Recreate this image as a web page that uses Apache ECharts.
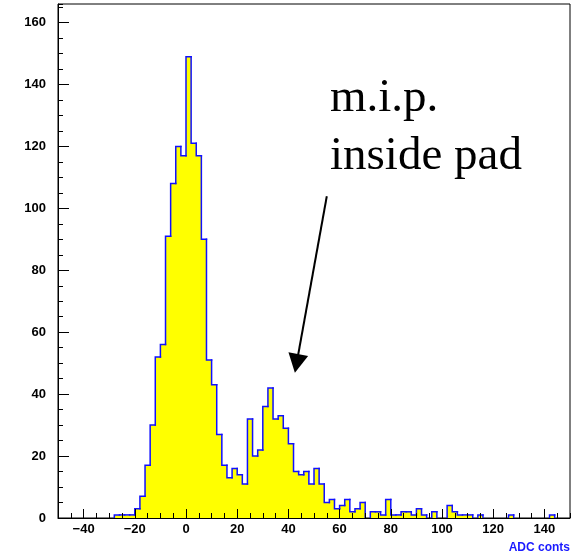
<!DOCTYPE html>
<html><head><meta charset="utf-8">
<script src="https://cdn.jsdelivr.net/npm/echarts@6/dist/echarts.min.js"></script>
<style>html,body{margin:0;padding:0;background:#fff}#c{width:581px;height:558px}</style>
</head><body><div id="c"></div>
<script>
// Histogram: bins of width 2 starting at -50 (100 bins, -50 .. 150)
const binStart = -50;
const binWidth = 2;
const counts = [
  0,0,0,0,0,0,0,0,0,0,0,          // -50 .. -30
  1,1,1,1,                        // -28 .. -22
  3,7,17,30,52,56,91,108,120,117, // -20 .. -2
  149,121,117,90,51,43,27,17,13,16, // 0 .. 18
  14,11,32,20,22,36,42,32,33,29,  // 20 .. 38
  24,15,14,15,11,16,11,5,6,3,     // 40 .. 58
  4,6,2,3,5,0,2,2,1,6,            // 60 .. 78
  1,1,2,2,1,3,1,0,2,0,            // 80 .. 98
  0,4,2,1,1,1,0,1,0,0,            // 100 .. 118
  0,0,0,1,0,0,0,0,0,0,            // 120 .. 138
  0,1,0,0,0                       // 140 .. 148
];
const xRange = [-50, 150];
const yRange = [0, 166];
const xTickLabels = [-40,-20,0,20,40,60,80,100,120,140];
const yTickLabels = [0,20,40,60,80,100,120,140,160];
const xTitle = 'ADC conts';
const noteLine1 = 'm.i.p.';
const noteLine2 = 'inside pad';
const arrowStart = [55, 103.9];
const arrowEnd = [43.2, 49.9];

const fillData = counts.map((c, i) => [binStart + i * binWidth, c]);
fillData.push([binStart + counts.length * binWidth, counts[counts.length - 1]]);
const outlineData = counts.map((c, i) => [binStart + i * binWidth, c, i > 0 ? counts[i - 1] : 0]);

const labelFont = {color: '#000', fontFamily: 'Liberation Sans', fontWeight: 'bold', fontSize: 13};

const chart = echarts.init(document.getElementById('c'), null, {renderer: 'canvas'});
chart.setOption({
  animation: false,
  backgroundColor: '#fff',
  grid: {left: 58, top: 4, width: 512, height: 514, show: true, borderColor: '#000', borderWidth: 1, containLabel: false, outerBoundsMode: 'none'},
  xAxis: [
    {type: 'value', min: xRange[0], max: xRange[1], z: 10, position: 'bottom',
     axisLine: {show: true, onZero: false, lineStyle: {color: '#000', width: 1}},
     axisTick: {show: true, inside: true, length: 9, customValues: xTickLabels, lineStyle: {color: '#000', width: 1}},
     axisLabel: {show: true, margin: 5, customValues: xTickLabels, formatter: v => (v < 0 ? '\u2212' + Math.abs(v) : String(v)), ...labelFont},
     splitLine: {show: false}},
    {type: 'value', min: xRange[0], max: xRange[1], interval: 5, z: 10, position: 'bottom', offset: 0,
     axisLine: {show: false, onZero: false}, axisLabel: {show: false}, splitLine: {show: false},
     axisTick: {show: true, inside: true, length: 5, lineStyle: {color: '#000', width: 1}}}
  ],
  yAxis: [
    {type: 'value', min: yRange[0], max: yRange[1], z: 10, position: 'left',
     axisLine: {show: true, onZero: false, lineStyle: {color: '#000', width: 1}},
     axisTick: {show: true, inside: true, length: 11, customValues: yTickLabels, lineStyle: {color: '#000', width: 1}},
     axisLabel: {show: true, margin: 12, customValues: yTickLabels, ...labelFont},
     splitLine: {show: false}},
    {type: 'value', min: yRange[0], max: yRange[1], interval: 5, z: 10, position: 'left', offset: 0,
     axisLine: {show: false, onZero: false}, axisLabel: {show: false}, splitLine: {show: false},
     axisTick: {show: true, inside: true, length: 5, lineStyle: {color: '#000', width: 1}}}
  ],
  series: [
    {type: 'line', xAxisIndex: 0, yAxisIndex: 0, step: 'end', data: fillData,
     showSymbol: false, symbol: 'none', lineStyle: {width: 0, opacity: 0},
     areaStyle: {color: '#ffff00', opacity: 1, origin: 'start'}, silent: true, z: 2,
     markLine: {silent: true, symbol: ['none', 'triangle'], symbolSize: [20, 19],
       label: {show: false}, lineStyle: {color: '#000', width: 2, type: 'solid'},
       data: [[{coord: arrowStart}, {coord: arrowEnd}]]}},
    {type: 'custom', xAxisIndex: 0, yAxisIndex: 0, data: outlineData, silent: true, z: 3,
     encode: {x: 0, y: 1},
     renderItem: function (params, api) {
       const x0 = api.value(0), v = api.value(1), vPrev = api.value(2);
       const x1 = x0 + binWidth;
       const pts = [api.coord([x0, vPrev]), api.coord([x0, v])];
       if (v > 0) pts.push(api.coord([x1, v]));
       if (params.dataIndex === counts.length - 1 && v > 0) pts.push(api.coord([x1, 0]));
       return {type: 'polyline', shape: {points: pts},
               style: {stroke: '#1010ff', lineWidth: 1.5, fill: null, lineCap: 'square', lineJoin: 'miter'}};
     }}
  ],
  graphic: [
    {type: 'text', right: 11, top: 542, style: {text: xTitle, fill: '#1a1aff', font: 'bold 12px "Liberation Sans"'}},
    {type: 'text', left: 330, top: 75, style: {text: noteLine1, fill: '#000', font: '47px "Liberation Serif"'}},
    {type: 'text', left: 330, top: 133, style: {text: noteLine2, fill: '#000', font: '47px "Liberation Serif"'}}
  ]
});
</script>
</body></html>
